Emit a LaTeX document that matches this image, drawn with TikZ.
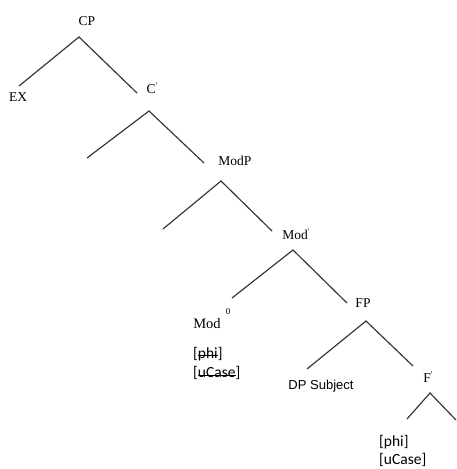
\documentclass[tikz,border=0pt]{standalone}
\usepackage{fontspec}
\setmainfont{Liberation Serif}
\newfontfamily\featfont{Carlito}
\newfontfamily\subjfont{Liberation Sans}

% struck-through feature text
\newcommand{\checked}[1]{\leavevmode\setbox0\hbox{#1}%
  \rlap{\raisebox{0.3ex}{\rule{\wd0}{0.8pt}}}\box0}
% small bar-level tick
\newcommand{\barlvl}{\raisebox{0.8ex}{\fontsize{8.5}{8.5}\selectfont\textquotesingle}}

\tikzset{
  cat/.style={inner sep=0pt, font=\fontsize{13.5}{13.5}\selectfont},
  feat/.style={inner sep=0pt, anchor=west, font=\featfont\fontsize{15.5}{15.5}\selectfont},
  branch/.style={line width=1.15pt, black!80}
}

\begin{document}
\begin{tikzpicture}[x=1pt, y=-1pt]
\useasboundingbox (0,0) rectangle (456,469);

\node [cat] (cp) at (87,21) {CP};
\node [cat] (ex) at (18,97) {EX};
\node [cat] (cbar) at (152,88) {C\barlvl};
\node [cat] (modp) at (235,161) {ModP};
\node [cat] (modbar) at (296,234) {Mod\barlvl};
\node [cat, font=\fontsize{14.5}{14.5}\selectfont] (modhead) at (207,324) {Mod};
\node [inner sep=0pt, font=\fontsize{9}{9}\selectfont] (zero) at (228,312) {0};
\node [cat] (fp) at (363,303) {FP};
\node [inner sep=0pt, font=\subjfont\fontsize{13}{13}\selectfont] (subj) at (321,386) {DP Subject};
\node [cat] (fbar) at (428,377) {F\barlvl};

\node [feat] (modphi) at (193,354) {[\checked{phi}]};
\node [feat] (modcase) at (193,373) {[\checked{uCase}]};
\node [feat] (fphi) at (379,442) {[phi]};
\node [feat] (fcase) at (379,460) {[uCase]};

\coordinate (cp-t) at (79,37);
\coordinate (ex-e) at (19,86);
\coordinate (cbar-e) at (137,93);
\coordinate (cbar-t) at (149,111);
\coordinate (gap1) at (87,158);
\coordinate (modp-e) at (204,163);
\coordinate (modp-t) at (221,181);
\coordinate (gap2) at (163,229);
\coordinate (modbar-e) at (272,231);
\coordinate (modbar-t) at (293,250);
\coordinate (modhead-e) at (232,298);
\coordinate (fp-e) at (347,303);
\coordinate (fp-t) at (366,321);
\coordinate (subj-e) at (307,369);
\coordinate (fbar-e) at (413,366);
\coordinate (fbar-t) at (430,393);
\coordinate (fphi-e) at (407,419);
\coordinate (edge) at (456,420);

\draw [branch] (ex-e) -- (cp-t) -- (cbar-e);
\draw [branch] (gap1) -- (cbar-t) -- (modp-e);
\draw [branch] (gap2) -- (modp-t) -- (modbar-e);
\draw [branch] (modhead-e) -- (modbar-t) -- (fp-e);
\draw [branch] (subj-e) -- (fp-t) -- (fbar-e);
\draw [branch] (fphi-e) -- (fbar-t) -- (edge);
\end{tikzpicture}
\end{document}
